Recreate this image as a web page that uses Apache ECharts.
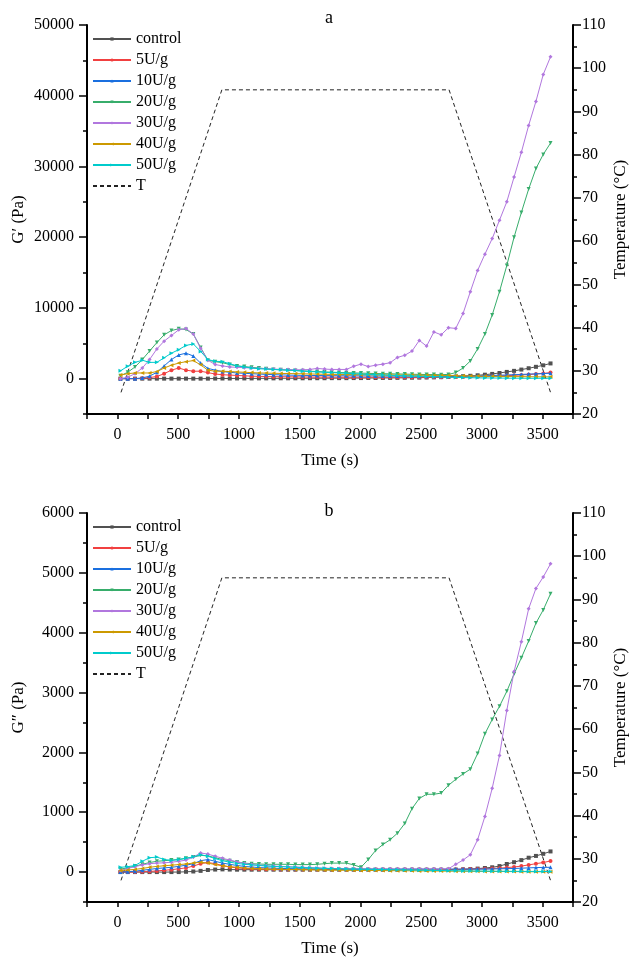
<!DOCTYPE html>
<html>
<head>
<meta charset="utf-8">
<script src="https://cdn.jsdelivr.net/npm/echarts@6/dist/echarts.min.js"></script>
<style>html,body{margin:0;padding:0;background:#fff}#c{width:629px;height:961px}</style>
</head>
<body>
<div id="c"></div>
<script>
var times = [25,85,145,205,265,325,385,445,505,565,625,685,745,805,865,925,985,1045,1105,1165,1225,1285,1345,1405,1465,1525,1585,1645,1705,1765,1825,1885,1945,2005,2065,2125,2185,2245,2305,2365,2425,2485,2545,2605,2665,2725,2785,2845,2905,2965,3025,3085,3145,3205,3265,3325,3385,3445,3505,3565];
var seriesNames = ['control','5U/g','10U/g','20U/g','30U/g','40U/g','50U/g'];
var tempTimes = [30, 860, 2730, 3565];
var tempValues = [25, 95, 95, 25];
var xLabels = [0,500,1000,1500,2000,2500,3000,3500];
var yLabelsA = [0,10000,20000,30000,40000,50000];
var yLabelsB = [0,1000,2000,3000,4000,5000,6000];

// Panel a: G' (Pa)
var aControl = [0,0,0,0,0,0,0,0,0,0,0,0,0,10,20,20,30,30,30,40,40,40,50,50,50,50,60,60,60,70,70,70,80,80,90,90,100,100,110,120,130,140,160,180,210,250,290,340,400,470,560,670,800,950,1100,1280,1470,1670,1880,2150];
var a5U = [0,0,0,50,150,300,700,1200,1500,1200,1050,1050,850,650,550,500,450,400,350,320,300,280,270,260,250,240,230,220,220,210,210,200,200,200,200,200,200,200,200,200,200,200,200,200,210,220,230,240,260,280,310,340,380,420,470,520,580,650,730,850];
var a10U = [0,0,0,100,350,900,1800,2700,3350,3600,3200,2200,1450,1200,1000,900,800,750,700,650,600,560,530,500,480,460,450,440,430,420,410,400,400,390,380,380,370,370,360,360,360,350,350,350,350,350,360,370,380,400,420,450,480,520,560,600,640,680,720,760];
var a20U = [400,900,1650,2700,3900,5100,6200,6800,7050,6950,6300,4400,2600,2400,2250,2000,1800,1700,1600,1500,1400,1300,1250,1200,1150,1100,1050,1000,950,900,870,840,810,780,750,720,700,680,660,640,620,600,580,570,560,600,850,1500,2500,4200,6300,9000,12300,16000,20000,23500,26800,29700,31700,33300];
var a30U = [0,200,700,1500,2700,4200,5300,6100,6900,7100,6300,4300,2600,2000,1800,1650,1600,1550,1500,1450,1400,1350,1300,1300,1250,1250,1300,1450,1350,1300,1300,1300,1750,2050,1700,1900,2050,2250,3000,3300,3900,5400,4600,6600,6200,7200,7100,9200,12300,15300,17600,19800,22400,25000,28500,32000,35800,39200,43000,45500];
var a40U = [500,700,800,800,800,1000,1500,1900,2200,2400,2550,1950,1200,1050,1050,1000,950,900,850,800,780,760,740,720,700,680,660,640,620,600,590,580,570,560,550,540,530,520,510,500,490,480,470,460,450,440,420,400,380,360,340,320,310,300,290,280,270,260,250,250];
var a50U = [1100,1750,2300,2600,2300,2300,2950,3600,4100,4700,4900,3850,2700,2450,2400,2100,1800,1650,1500,1400,1350,1300,1250,1200,1150,1050,1000,950,900,850,800,750,700,650,600,560,520,480,440,400,370,340,310,280,250,200,170,150,130,110,100,90,80,70,60,60,50,50,50,50];

// Panel b: G'' (Pa)
var bControl = [0,0,0,0,0,0,0,0,0,5,10,20,35,42,45,42,40,40,40,40,40,40,40,40,40,40,40,40,40,40,40,40,40,40,40,40,40,40,40,40,40,40,40,40,40,40,42,45,50,58,68,80,100,135,165,200,240,270,305,345];
var b5U = [0,0,0,5,10,20,30,40,55,70,100,140,160,140,110,85,70,60,55,50,48,46,45,45,45,45,45,45,45,45,45,45,45,45,45,45,45,45,45,45,45,45,45,45,45,45,45,48,50,52,55,60,65,75,85,100,120,140,160,185];
var b10U = [0,5,15,30,45,60,70,80,95,115,140,190,210,180,150,130,110,95,85,75,70,65,60,58,56,55,54,53,52,52,51,51,50,50,50,50,50,50,50,50,50,50,50,50,50,50,50,50,50,50,50,52,55,58,60,65,70,75,78,80];
var b20U = [50,70,100,130,160,180,190,200,210,230,250,280,270,240,210,190,170,150,140,135,130,130,130,130,125,125,125,130,140,150,150,150,120,80,210,360,460,540,650,810,1060,1230,1300,1300,1320,1450,1550,1640,1720,1980,2310,2550,2770,3020,3310,3580,3860,4160,4380,4650];
var b30U = [25,60,90,120,140,150,155,165,180,200,250,320,300,265,230,200,170,145,125,115,105,100,95,90,85,80,75,70,65,60,58,56,55,54,53,52,51,50,50,50,50,50,50,50,50,55,130,200,290,540,930,1400,1950,2700,3350,3850,4400,4740,4930,5150];
var b40U = [25,35,45,60,80,95,105,115,125,135,150,165,150,125,105,90,80,70,60,55,50,48,46,44,42,40,38,36,34,32,31,30,29,28,27,26,25,24,23,22,21,20,19,18,17,16,15,14,13,12,11,10,10,9,8,7,6,5,5,5];
var b50U = [80,90,110,180,240,250,210,195,210,230,255,290,265,225,190,165,145,130,120,110,100,95,90,85,80,75,70,66,62,58,55,52,50,48,46,44,42,40,38,36,34,32,30,28,26,24,22,20,18,17,16,15,14,13,12,12,11,11,10,10];

var colors = ['#515151','#F14040','#1A6FDF','#37AD6B','#B177DE','#CC9900','#00CBCC'];
var symbols = ['rect','circle','triangle','path://M0,0 L10,0 L5,10 Z','diamond','path://M0,5 L10,0 L10,10 Z','path://M0,0 L10,5 L0,10 Z'];
var dataA = [aControl,a5U,a10U,a20U,a30U,a40U,a50U];
var dataB = [bControl,b5U,b10U,b20U,b30U,b40U,b50U];

var FONT = 'Liberation Serif';
var series = [];
function addPanel(vals, xi, yi, ti) {
  vals.forEach(function (arr, k) {
    series.push({
      name: seriesNames[k], type: 'line', xAxisIndex: xi, yAxisIndex: yi,
      data: arr.map(function (v, i) { return [times[i], v]; }),
      symbol: symbols[k], symbolSize: 4, showSymbol: true,
      lineStyle: {width: 1, color: colors[k]}, itemStyle: {color: colors[k]},
      z: 3 + k
    });
  });
  series.push({
    name: 'T', type: 'line', xAxisIndex: xi, yAxisIndex: ti,
    data: tempValues.map(function (v, i) { return [tempTimes[i], v]; }),
    symbol: 'none', lineStyle: {width: 1, color: '#222', type: [4, 3]}, itemStyle: {color: '#222'}, z: 2
  });
}
addPanel(dataA, 0, 0, 2);
addPanel(dataB, 1, 3, 5);

var axisLineStyle = {show: true, onZero: false, lineStyle: {color: '#000', width: 2}};
var tickLine = {color: '#000', width: 1.5};
var labelStyle = {color: '#000', fontFamily: FONT, fontSize: 16, formatter: function (v) { return String(v); }};
var nameStyle = {color: '#000', fontFamily: FONT, fontSize: 17};

function xAxisFor(gi) {
  return {
    type: 'value', gridIndex: gi, min: -250, max: 3750, interval: 250,
    axisLine: axisLineStyle,
    axisTick: {show: true, length: 5, inside: false, lineStyle: tickLine},
    axisLabel: Object.assign({customValues: xLabels, margin: 13}, labelStyle),
    splitLine: {show: false},
    name: 'Time (s)', nameLocation: 'middle', nameGap: 38, nameMoveOverlap: false, nameTextStyle: nameStyle
  };
}
function leftAxes(gi, mn, mx, minorStep, labels, name) {
  return [{
    type: 'value', gridIndex: gi, position: 'left', min: mn, max: mx, interval: minorStep,
    axisLine: axisLineStyle,
    axisTick: {show: true, length: 4, lineStyle: tickLine},
    axisLabel: {show: false}, splitLine: {show: false}
  }, {
    type: 'value', gridIndex: gi, position: 'left', min: mn, max: mx,
    axisLine: {show: false, onZero: false},
    axisTick: {show: true, length: 8, customValues: labels, lineStyle: tickLine},
    axisLabel: Object.assign({customValues: labels, margin: 13}, labelStyle),
    splitLine: {show: false},
    name: name, nameLocation: 'middle', nameGap: 60, nameMoveOverlap: false, nameTextStyle: nameStyle
  }];
}
function rightAxis(gi) {
  return {
    type: 'value', gridIndex: gi, position: 'right', min: 20, max: 110, interval: 10,
    axisLine: axisLineStyle,
    axisTick: {show: true, length: 8, lineStyle: tickLine},
    minorTick: {show: true, splitNumber: 2, length: 4, lineStyle: tickLine},
    axisLabel: Object.assign({margin: 9}, labelStyle),
    splitLine: {show: false}, minorSplitLine: {show: false},
    name: 'Temperature (\u00B0C)', nameLocation: 'middle', nameGap: 39, nameRotate: 90, nameMoveOverlap: false, nameTextStyle: nameStyle
  };
}

var la = leftAxes(0, -5000, 50000, 5000, yLabelsA, 'G\u2032 (Pa)');
var lb = leftAxes(1, -500, 6000, 500, yLabelsB, 'G\u2033 (Pa)');

function legendAt(top) {
  var items = seriesNames.map(function (n) { return {name: n}; });
  items.push({name: 'T', itemStyle: {color: 'rgba(0,0,0,0)', opacity: 0}});
  return {
    orient: 'vertical', left: 92, top: top, padding: 0, itemWidth: 38, itemHeight: 4, itemGap: 5,
    textStyle: {color: '#000', fontFamily: FONT, fontSize: 16, lineHeight: 16},
    data: items, selectedMode: false
  };
}

var option = {
  animation: false,
  backgroundColor: '#fff',
  textStyle: {fontFamily: FONT},
  title: [
    {text: 'a', left: 324, top: 4, textAlign: 'center', textStyle: {color: '#000', fontFamily: FONT, fontSize: 18, fontWeight: 'normal'}},
    {text: 'b', left: 324, top: 497, textAlign: 'center', textStyle: {color: '#000', fontFamily: FONT, fontSize: 18, fontWeight: 'normal'}}
  ],
  legend: [legendAt(31), legendAt(519)],
  grid: [
    {left: 87, right: 56, top: 25, height: 389, containLabel: false, outerBoundsMode: 'none'},
    {left: 87, right: 56, top: 513, height: 389, containLabel: false, outerBoundsMode: 'none'}
  ],
  xAxis: [xAxisFor(0), xAxisFor(1)],
  yAxis: [la[0], la[1], rightAxis(0), lb[0], lb[1], rightAxis(1)],
  series: series
};
var chart = echarts.init(document.getElementById('c'), null, {renderer: 'canvas'});
chart.setOption(option);
</script>
</body>
</html>
